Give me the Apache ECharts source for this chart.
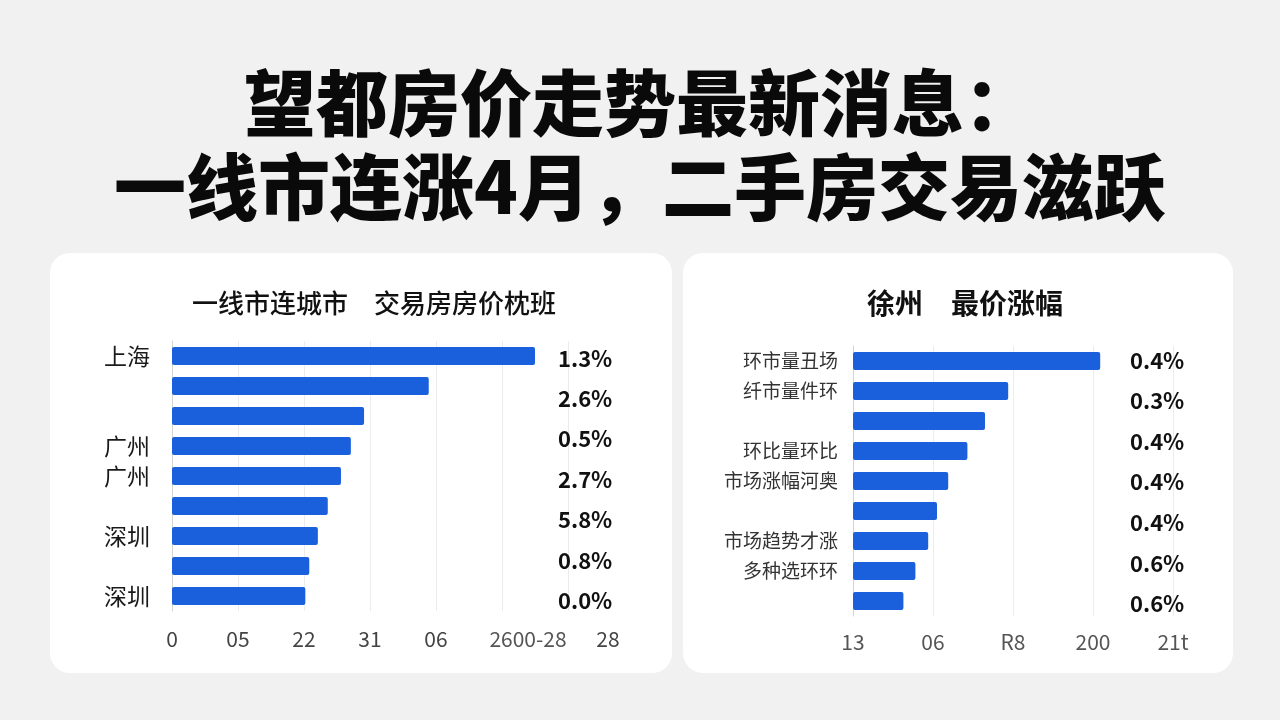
<!DOCTYPE html>
<html>
<head>
<meta charset="utf-8">
<script src="https://cdn.jsdelivr.net/npm/echarts@6/dist/echarts.min.js"></script>
<style>
  html, body { margin: 0; padding: 0; background: #f1f1f1; }
  #main { width: 1280px; height: 720px; }
</style>
</head>
<body>
<div id="main"></div>
<script>
// left card: 一线城市
const leftCities = ['上海', '', '', '广州', '广州', '', '深圳', '', '深圳'];
const leftValues = [5.5, 3.89, 2.91, 2.71, 2.56, 2.36, 2.21, 2.08, 2.02];
const leftRates = ['1.3%', '2.6%', '0.5%', '2.7%', '5.8%', '0.8%', '0.0%'];
const leftTicks = ['0', '05', '22', '31', '06', '2600-28', '28'];

// right card: 徐州
const rightItems = ['环市量丑场', '纤市量件环', '', '环比量环比', '市场涨幅河奥', '', '市场趋势才涨', '多种选环环', ''];
const rightValues = [3.09, 1.94, 1.65, 1.43, 1.19, 1.05, 0.94, 0.78, 0.63];
const rightRates = ['0.4%', '0.3%', '0.4%', '0.4%', '0.4%', '0.6%', '0.6%'];
const rightTicks = ['13', '06', 'R8', '200', '21t'];

const font = 'Noto Sans CJK SC';
const barColor = '#1a5fdc';

let myChart = echarts.init(document.getElementById('main'));
myChart.setOption({
    backgroundColor: '#f1f1f1',
    textStyle: { fontFamily: font },
    graphic: [
        { type: 'rect', z: -10, shape: { x: 50, y: 253, width: 622, height: 420, r: 20 }, style: { fill: '#ffffff' } },
        { type: 'rect', z: -10, shape: { x: 683, y: 253, width: 550, height: 420, r: 20 }, style: { fill: '#ffffff' } }
    ],
    title: [
        {
            text: '望都房价走势最新消息：\n一线市连涨4月，二手房交易滋跃',
            left: 'center',
            top: 56,
            textStyle: { fontFamily: font, fontSize: 72, fontWeight: 900, lineHeight: 84, color: '#0a0a0a' }
        },
        {
            text: '一线市连城市　交易房房价枕班',
            left: 369,
            textAlign: 'center',
            top: 285,
            textStyle: { fontFamily: font, fontSize: 26, fontWeight: 500, color: '#111' }
        },
        {
            text: '徐州　最价涨幅',
            left: 960,
            textAlign: 'center',
            top: 284,
            textStyle: { fontFamily: font, fontSize: 28, fontWeight: 'bold', color: '#111' }
        }
    ],
    grid: [
        { left: 172, width: 396, top: 341, height: 270 },
        { left: 549, width: 1, top: 338, height: 283 },
        { left: 853, width: 320, top: 346, height: 270 },
        { left: 1121, width: 1, top: 340, height: 284 }
    ],
    xAxis: [
        {
            gridIndex: 0, type: 'value', min: 0, max: 6, interval: 1,
            axisLine: { show: false }, axisTick: { show: false },
            splitLine: { lineStyle: { color: '#ececec' } },
            axisLabel: {
                margin: 18, fontSize: 21, color: '#444',
                formatter: function (v) {
                    const i = Math.round(v);
                    if (i === 5) return '{far|' + leftTicks[i] + '}';
                    if (i === 6) return '{end|' + leftTicks[i] + '}';
                    return leftTicks[i];
                },
                rich: {
                    far: { fontSize: 21, color: '#555', padding: [0, 0, 0, 52] },
                    end: { fontSize: 21, color: '#444', padding: [0, 0, 0, 80] }
                }
            }
        },
        { gridIndex: 1, type: 'value', show: false },
        {
            gridIndex: 2, type: 'value', min: 0, max: 4, interval: 1,
            axisLine: { show: false }, axisTick: { show: false },
            splitLine: { lineStyle: { color: '#ececec' } },
            axisLabel: {
                margin: 16, fontSize: 21, color: '#555',
                formatter: v => rightTicks[Math.round(v)]
            }
        },
        { gridIndex: 3, type: 'value', show: false }
    ],
    yAxis: [
        {
            gridIndex: 0, type: 'category', data: leftCities, inverse: true,
            axisLine: { lineStyle: { color: '#d4d4d4' } }, axisTick: { show: false },
            axisLabel: { margin: 22, fontSize: 23, color: '#1a1a1a' }
        },
        {
            gridIndex: 1, type: 'category', data: leftRates, inverse: true, position: 'right',
            axisLine: { show: false }, axisTick: { show: false },
            axisLabel: { margin: 8, fontSize: 22, fontWeight: 'bold', color: '#111' }
        },
        {
            gridIndex: 2, type: 'category', data: rightItems, inverse: true,
            axisLine: { lineStyle: { color: '#d4d4d4' } }, axisTick: { show: false },
            axisLabel: { margin: 15, fontSize: 19, color: '#333' }
        },
        {
            gridIndex: 3, type: 'category', data: rightRates, inverse: true, position: 'right',
            axisLine: { show: false }, axisTick: { show: false },
            axisLabel: { margin: 8, fontSize: 22, fontWeight: 'bold', color: '#111' }
        }
    ],
    series: [
        {
            type: 'bar', xAxisIndex: 0, yAxisIndex: 0, data: leftValues,
            barWidth: 18, itemStyle: { color: barColor, borderRadius: 2 }
        },
        {
            type: 'bar', xAxisIndex: 2, yAxisIndex: 2, data: rightValues,
            barWidth: 18, itemStyle: { color: barColor, borderRadius: 2 }
        }
    ]
});
</script>
</body>
</html>
